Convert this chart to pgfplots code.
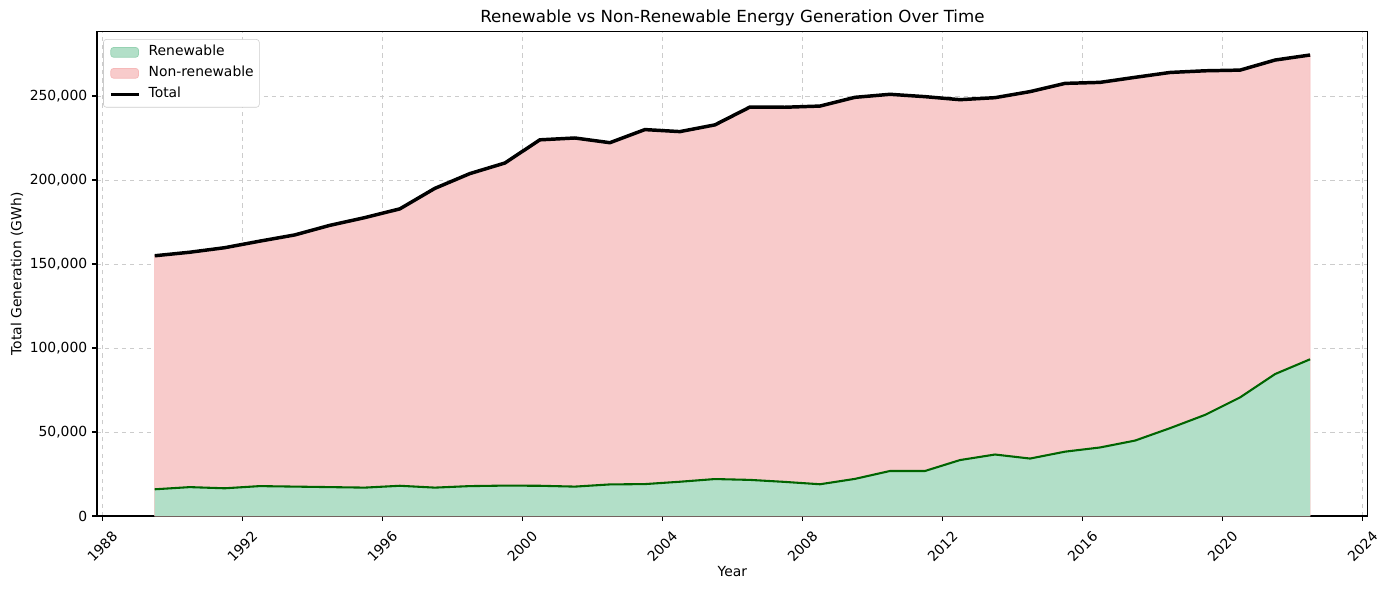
\documentclass[border=0pt]{standalone}
\usepackage{fontspec}
\setmainfont{DejaVu Sans}
\usepackage{pgfplots}
\usepackage{pgfplotstable}
\pgfplotsset{compat=1.18}
\definecolor{renfill}{RGB}{178,223,200}
\definecolor{renedge}{RGB}{150,210,178}
\definecolor{nonfill}{RGB}{248,203,203}
\definecolor{nonedge}{RGB}{246,185,185}
\definecolor{rline}{RGB}{0,100,0}
\pgfplotstableread{
year total ren
1989.5 154900 15900
1990.5 157000 17200
1991.5 159700 16500
1992.5 163600 17800
1993.5 167300 17500
1994.5 173000 17200
1995.5 177600 16900
1996.5 182800 18000
1997.5 195000 16900
1998.5 203800 17800
1999.5 210100 18100
2000.5 223900 18000
2001.5 225000 17500
2002.5 222200 18800
2003.5 230000 19000
2004.5 228800 20400
2005.5 232800 22000
2006.5 243400 21500
2007.5 243300 20300
2008.5 244000 18900
2009.5 249200 22100
2010.5 251000 26800
2011.5 249600 26800
2012.5 247800 33300
2013.5 249000 36600
2014.5 252600 34200
2015.5 257500 38300
2016.5 258100 40800
2017.5 261100 44900
2018.5 264000 52300
2019.5 265000 60200
2020.5 265400 70600
2021.5 271400 84500
2022.5 274400 93300
}\datatable
\begin{document}
\begin{tikzpicture}
\path[use as bounding box] (-69.8pt,-53.3pt) rectangle (930.2pt,371.5pt);
\begin{axis}[
  scale only axis,
  width=915pt, height=348.5pt,
  xmin=1987.85, xmax=2024.15,
  ymin=0, ymax=288120,
  axis line style={line width=0.8pt},
  xtick={1988,1992,...,2024},
  ytick={0,50000,100000,150000,200000,250000},
  scaled y ticks=false,
  tick align=outside,
  major tick length=3.5pt,
  tick style={line width=0.8pt, black},
  xtick pos=bottom, ytick pos=left,
  /pgf/number format/assume math mode=true,
  font=\fontsize{10pt}{12pt}\selectfont,
  ticklabel style={font=\fontsize{10pt}{12pt}\selectfont},
  yticklabel style={/pgf/number format/fixed, /pgf/number format/1000 sep={,}},
  xticklabel style={/pgf/number format/1000 sep={}, yshift=-18.5pt, rotate=45, anchor=center},
  grid=major,
  major grid style={dashed, line width=0.6pt, color=black!20},
  every axis title shift=0pt,
  title={Renewable vs Non-Renewable Energy Generation Over Time},
  title style={font=\fontsize{12pt}{14pt}\selectfont, at={(axis description cs:0.5,1.029)}, anchor=center},
  xlabel={Year},
  xlabel style={at={(axis description cs:0.5,-0.1156)}, anchor=center},
  ylabel={Total Generation (GWh)},
  ylabel style={at={(axis description cs:-0.06295,0.5)}, anchor=center},
  legend style={at={(0,1)}, anchor=north west, xshift=4.5pt, yshift=-5.2pt,
    draw=black!20, rounded corners=2pt, font=\fontsize{10pt}{12pt}\selectfont,
    inner xsep=4pt, inner ysep=4.3pt, row sep=5.1pt,
    nodes={inner sep=0pt, text height=7.5pt, text depth=2.5pt, anchor=west},
    /tikz/every odd column/.append style={column sep=6pt}},
  legend cell align=left,
]
\addplot[fill=nonfill, draw=nonedge, forget plot] table[x=year, y=total] {\datatable} \closedcycle;
\addplot[fill=renfill, draw=none, forget plot] table[x=year, y=ren] {\datatable} \closedcycle;
\addplot[rline, line width=1.5pt, forget plot] table[x=year, y=ren] {\datatable};
\addplot[black, line width=2.5pt, forget plot] table[x=year, y=total] {\datatable};
\addlegendimage{legend image code/.code={\filldraw[fill=renfill, draw=renedge, line width=0.5pt] (0pt,-3.5pt) rectangle (20pt,3.5pt);}}
\addlegendentry{Renewable}
\addlegendimage{legend image code/.code={\filldraw[fill=nonfill, draw=nonedge, line width=0.5pt] (0pt,-3.5pt) rectangle (20pt,3.5pt);}}
\addlegendentry{Non-renewable}
\addlegendimage{legend image code/.code={\draw[black, line width=2.5pt] (0pt,0pt) -- (20pt,0pt);}}
\addlegendentry{Total}
\end{axis}
\end{tikzpicture}
\end{document}
